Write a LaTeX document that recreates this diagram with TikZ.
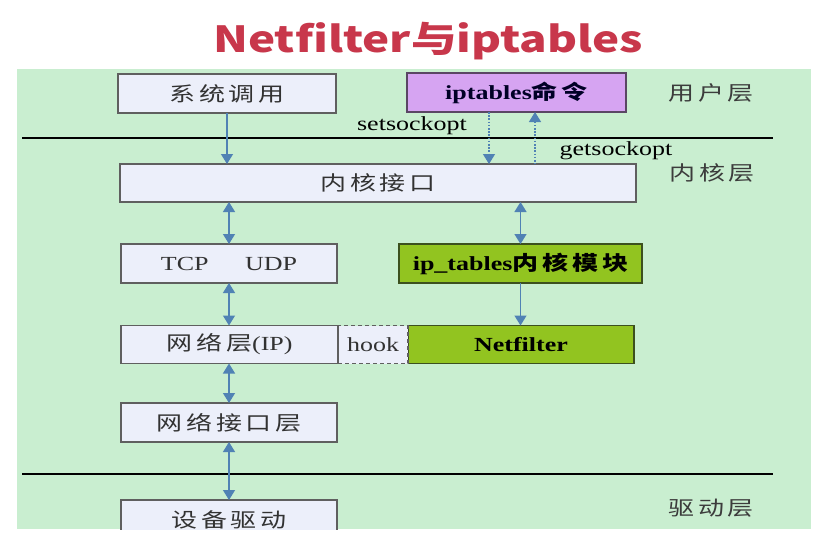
\documentclass[tikz,border=0pt]{standalone}
\usepackage{fontspec}
\usepackage{graphicx}
\setmainfont{Liberation Serif}
\newfontfamily\cjk[LetterSpace=15]{Noto Sans CJK SC}
\newfontfamily\cjkt{Noto Sans CJK SC}
\usetikzlibrary{arrows.meta}
\definecolor{bg}{RGB}{201,238,208}
\definecolor{boxw}{RGB}{236,239,250}
\definecolor{boxline}{RGB}{95,95,95}
\definecolor{purp}{RGB}{214,164,242}
\definecolor{purpline}{RGB}{90,70,100}
\definecolor{lime}{RGB}{146,196,32}
\definecolor{limeline}{RGB}{60,80,30}
\definecolor{arrc}{RGB}{80,130,180}
\definecolor{titlered}{RGB}{200,55,75}
\definecolor{boxtext}{RGB}{50,50,50}
\definecolor{labtext}{RGB}{60,60,60}
\newcommand\sx[1]{\scalebox{1.3}[1]{#1}}
\tikzset{
  box/.style={draw=boxline, line width=1.3pt, fill=boxw, outer sep=0pt, inner sep=0pt,
    text=boxtext, font=\fontsize{20}{24}\selectfont},
  purpbox/.style={box, fill=purp, draw=purpline, text=black!85!blue},
  limebox/.style={box, fill=lime, draw=limeline, text=black},
  hookbox/.style={box, dash pattern=on 4pt off 3pt},
  lab/.style={inner sep=0pt, text=labtext, font=\fontsize{20}{24}\selectfont},
  arr/.style={draw=arrc, line width=1.3pt},
  dotarr/.style={arr, dash pattern=on 1.6pt off 1.6pt},
  tipd/.style={-{Triangle[length=10pt,width=12pt]}},
  tipu/.style={{Triangle[length=10pt,width=12pt]}-},
  tipb/.style={{Triangle[length=10pt,width=12pt]}-{Triangle[length=10pt,width=12pt]}},
  layerline/.style={draw=black, line width=2.5pt}
}
\begin{document}
\begin{tikzpicture}[x=1pt,y=-1pt]
\useasboundingbox (0,0) rectangle (833,547);
\fill[white] (0,0) rectangle (833,547);
\node[anchor=base, inner sep=0pt, text=titlered] (title) at (428,52)
  {\scalebox{1.27}[1]{\fontsize{36}{36}\selectfont\cjkt\bfseries Netfilter与iptables}};
\begin{scope}
\clip (17,69) rectangle (811,529);
\fill[bg] (17,69) rectangle (811,529);
% layer lines
\coordinate (L1a) at (22,138); \coordinate (L1b) at (773,138);
\coordinate (L2a) at (22,474); \coordinate (L2b) at (773,474);
\draw[layerline] (L1a) -- (L1b);
\draw[layerline] (L2a) -- (L2b);
% boxes
\node[box, minimum width=218pt, minimum height=39pt] (sys) at (227,93.5) {\sx{\cjk 系统调用}};
\node[purpbox, minimum width=219pt, minimum height=39pt] (ipt) at (516.5,92.5) {\sx{\bfseries iptables{\cjk 命令}}};
\node[box, minimum width=516pt, minimum height=38pt] (kif) at (378,183) {\sx{\cjk 内核接口}};
\node[box, minimum width=216pt, minimum height=39pt] (tcp) at (229,263.5) {\sx{TCP\hspace{28pt}UDP}};
\node[limebox, minimum width=243pt, minimum height=39pt] (mod) at (520.5,263.5) {\sx{\bfseries ip\_tables{\cjk 内核模块}}};
\node[limebox, minimum width=226pt, minimum height=38pt] (nf) at (521,344.5) {\sx{\bfseries Netfilter}};
\node[hookbox, minimum width=70pt, minimum height=38pt] (hook) at (373,344.5) {\sx{hook}};
\node[box, minimum width=217pt, minimum height=38pt] (ip) at (229.5,344.5) {\sx{{\cjk 网络层}(IP)}};
\node[box, minimum width=216pt, minimum height=39pt] (nic) at (229,422.5) {\sx{\cjk 网络接口层}};
\node[box, minimum width=216pt, minimum height=39pt] (drv) at (229,519.5) {\sx{\cjk 设备驱动}};
% layer labels
\node[lab] (l1) at (711,93) {\sx{\cjk 用户层}};
\node[lab] (l2) at (712,173) {\sx{\cjk 内核层}};
\node[lab] (l3) at (711,508) {\sx{\cjk 驱动层}};
\node[lab, text=black] (set) at (412,126) {\sx{setsockopt}};
\node[lab, text=black] (get) at (616,151) {\sx{getsockopt}};
% connectors
\draw[arr,tipd] (sys.south) -- (sys.south |- kif.north);
\draw[arr,tipb] (kif.south -| tcp.north) -- (tcp.north);
\draw[arr,tipb] (tcp.south) -- (tcp.south |- ip.north);
\draw[arr,tipb] (ip.south -| nic.north) -- (nic.north);
\draw[arr,tipb] (nic.south) -- (drv.north);
\path ([xshift=-27.5pt]ipt.south) coordinate (sa);
\path ([xshift=18.5pt]ipt.south) coordinate (ga);
\draw[dotarr,tipd] (sa) -- (sa |- kif.north);
\draw[dotarr,tipu] (ga) -- (ga |- kif.north);
\draw[arr,tipb] (kif.south -| mod.north) -- (mod.north);
\draw[arr,tipd] (mod.south) -- (mod.south |- nf.north);
\end{scope}
\end{tikzpicture}
\end{document}
